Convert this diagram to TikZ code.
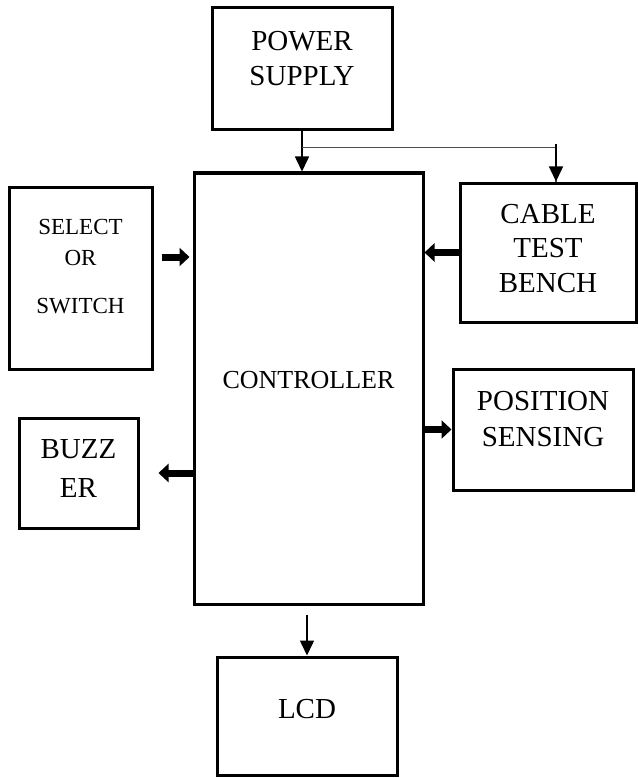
\documentclass[tikz,border=0pt]{standalone}
\usepackage{fontspec}
\setmainfont{Liberation Serif}
\usetikzlibrary{positioning,calc,arrows.meta}
\tikzset{
  blockbox/.style={
    rectangle, draw=black, line width=3pt, fill=white
  },
  lbl/.style={
    align=center, inner sep=0pt,
    font=\fontsize{29}{35}\selectfont
  },
  thinarr/.style={
    draw=black, line width=1.5pt,
    -{Triangle[length=15pt,width=14pt]}
  },
  fatarr/.style={
    draw=black, line width=7pt,
    -{Triangle[length=10pt,width=18pt]}
  },
}
\begin{document}
\begin{tikzpicture}[x=1pt,y=-1pt]
\useasboundingbox (0,0) rectangle (637,778);

%% -- blocks -------------------------------------------------------------
\node[blockbox, minimum width=180pt, minimum height=122pt] (ps)   at (302,69) {};
\node[blockbox, minimum width=229pt, minimum height=431pt] (ctrl) at (308.5,388.5) {};
\node[blockbox, minimum width=143pt, minimum height=182pt] (sel)  at (80.5,278) {};
\node[blockbox, minimum width=176pt, minimum height=139pt] (cable) at (548,252.5) {};
\node[blockbox, minimum width=180pt, minimum height=121pt] (pos)  at (543,429.5) {};
\node[blockbox, minimum width=119pt, minimum height=110pt] (buz)  at (78.5,473) {};
\node[blockbox, minimum width=180pt, minimum height=118pt] (lcd)  at (307,716) {};

%% -- block texts --------------------------------------------------------
\node[lbl] at ($(ps.north)+(0,52.5)$) {POWER\\SUPPLY};
\node[lbl, font=\fontsize{26}{31}\selectfont] at ($(ctrl.center)+(0,-8)$) {CONTROLLER};
\node[lbl, font=\fontsize{23}{31}\selectfont] at ($(sel.north)+(0,81.5)$) {SELECT\\OR\\[17pt]SWITCH};
\node[lbl, font=\fontsize{29}{34.5}\selectfont] at ($(cable.north)+(0,67)$) {CABLE\\TEST\\BENCH};
\node[lbl, font=\fontsize{29}{36}\selectfont] at ($(pos.north)+(0,52)$) {POSITION\\SENSING};
\node[lbl, font=\fontsize{29}{39}\selectfont] at ($(buz.north)+(0,52.5)$) {BUZZ\\ER};
\node[lbl] at ($(lcd.center)+(0,-7)$) {LCD};

%% -- connectors ---------------------------------------------------------
\coordinate (tap) at ($(ps.south)+(0,16)$);
\coordinate (selout) at ([xshift=8pt,yshift=21pt]sel.east);
\draw[thinarr] (ps.south) -- (ps.south |- ctrl.north);
\draw[draw=black!70, line width=1.2pt] (tap) -| ([xshift=8pt]cable.north);
\draw[thinarr] ([xshift=8pt,yshift=37pt]cable.north) -- ([xshift=8pt]cable.north);

\draw[fatarr] (selout) -- ([xshift=-3pt]selout -| ctrl.west);
\draw[fatarr] (cable.west) -- (cable.west -| ctrl.east);
\draw[fatarr] (pos.west -| ctrl.east) -- (pos.west);
\draw[fatarr] (buz.east -| ctrl.west) -- ([xshift=19pt]buz.east);
\draw[thinarr] ([yshift=-9pt]lcd.north |- ctrl.south) -- (lcd.north);

\end{tikzpicture}
\end{document}
